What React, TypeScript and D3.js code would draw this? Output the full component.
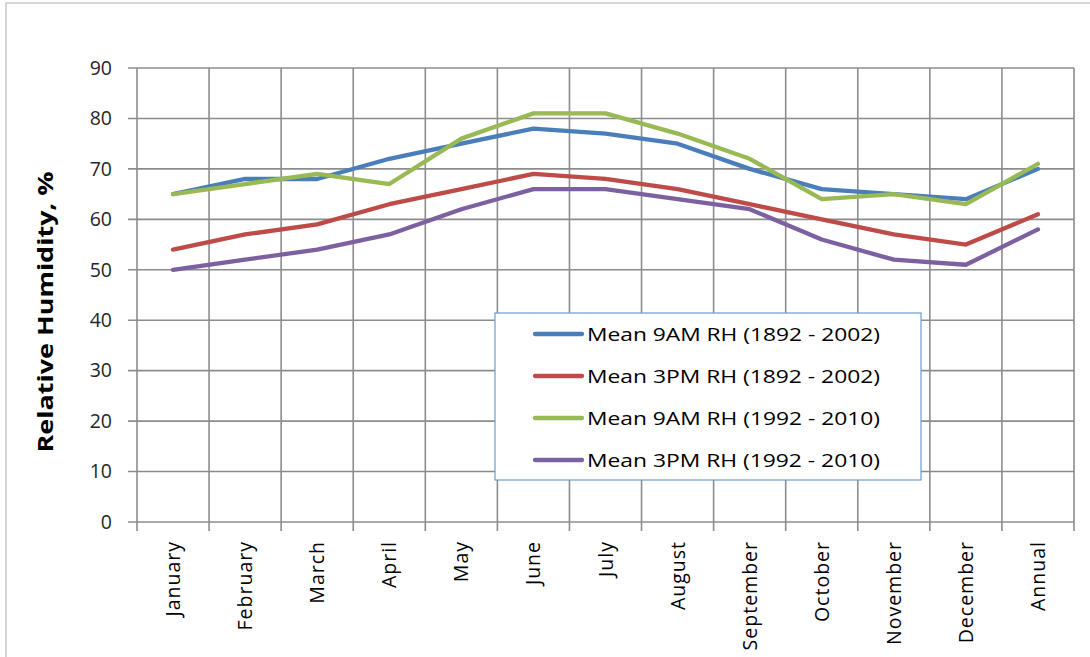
import React from "react";
import * as d3 from "d3";

const categories = ["January","February","March","April","May","June","July","August","September","October","November","December","Annual"];
const am1892 = [65,68,68,72,75,78,77,75,70,66,65,64,70];
const pm1892 = [54,57,59,63,66,69,68,66,63,60,57,55,61];
const am1992 = [65,67,69,67,76,81,81,77,72,64,65,63,71];
const pm1992 = [50,52,54,57,62,66,66,64,62,56,52,51,58];
const seriesNames = ["Mean 9AM RH (1892 - 2002)","Mean 3PM RH (1892 - 2002)","Mean 9AM RH (1992 - 2010)","Mean 3PM RH (1992 - 2010)"];
const seriesColors = ["#4A7EBB","#BE4B48","#98B954","#7D60A0"];
const yTicks = [0,10,20,30,40,50,60,70,80,90];

export default function App() {
  const W = 1090, H = 657;
  const left = 137, right = 1074, top = 68, bottom = 522;
  const x = d3.scaleBand<string>().domain(categories).range([left, right]);
  const y = d3.scaleLinear().domain([0, 90]).range([bottom, top]);
  const all = [am1892, pm1892, am1992, pm1992];
  const line = d3.line<number>()
    .x((_, i) => (x(categories[i]) as number) + x.bandwidth() / 2)
    .y((v) => y(v));
  const grid = "#8C8C8C";
  const boundaries = d3.range(categories.length + 1).map((i) => left + i * x.bandwidth());
  const font = "'Open Sans', Lato, sans-serif";
  return (
    <svg width={W} height={H} style={{ position: "absolute", left: 0, top: 0, background: "#fff" }}>
      <rect x={6} y={3} width={W + 10} height={H + 10} fill="#fff" stroke="#C8C8C8" strokeWidth={1.5} />
      {yTicks.map((t) => (
        <g key={t}>
          <line x1={left - 9} x2={right} y1={y(t)} y2={y(t)} stroke={grid} strokeWidth={1.6} />
          <text x={112} y={y(t)} dy="0.35em" textAnchor="end" fontFamily={font} fontSize={19.5} fill="#262626">{t}</text>
        </g>
      ))}
      {boundaries.map((bx, i) => (
        <line key={i} x1={bx} x2={bx} y1={top} y2={bottom + 9} stroke={grid} strokeWidth={1.6} />
      ))}
      {categories.map((c) => {
        const cx = (x(c) as number) + x.bandwidth() / 2;
        return (
          <text key={c} transform={`translate(${cx + 7},541) rotate(-90)`} textAnchor="end" fontFamily={font} fontSize={19.5} letterSpacing={1} fill="#000">{c}</text>
        );
      })}
      <text transform="translate(53,312) rotate(-90)" textAnchor="middle" fontFamily={font} fontWeight="bold" fontSize={22} textLength={281} lengthAdjust="spacingAndGlyphs" fill="#000">Relative Humidity, %</text>
      {all.map((s, i) => (
        <path key={i} d={line(s) as string} fill="none" stroke={seriesColors[i]} strokeWidth={4.3} strokeLinejoin="round" strokeLinecap="round" />
      ))}
      <rect x={495} y={313} width={426} height={167} fill="#fff" stroke="#6F9AD0" strokeWidth={1.2} />
      {seriesNames.map((n, i) => {
        const ly = 334 + i * 42;
        return (
          <g key={n}>
            <line x1={535} x2={582} y1={ly} y2={ly} stroke={seriesColors[i]} strokeWidth={4.3} strokeLinecap="round" />
            <text x={587} y={ly} dy="0.35em" fontFamily={font} fontSize={19} textLength={293} lengthAdjust="spacingAndGlyphs" fill="#000">{n}</text>
          </g>
        );
      })}
    </svg>
  );
}
